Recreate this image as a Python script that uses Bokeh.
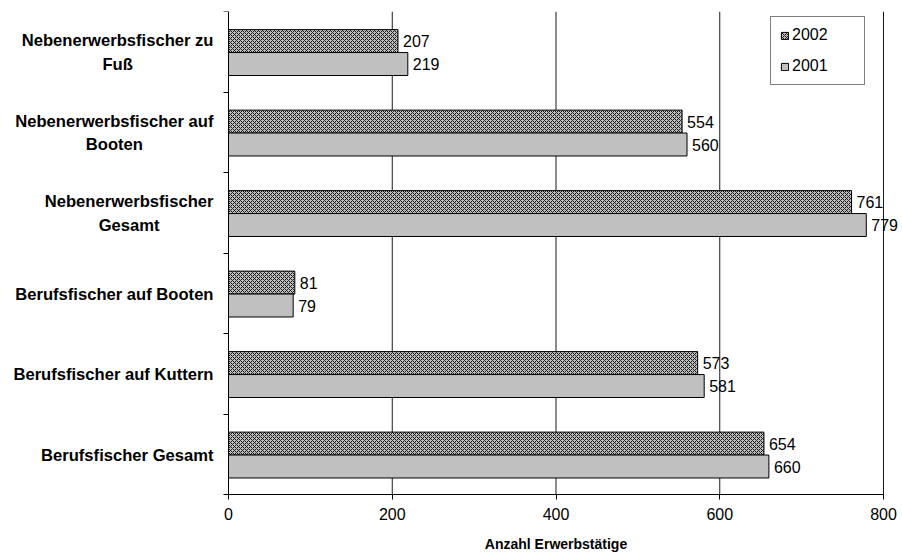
from bokeh.plotting import figure
from bokeh.models import Range1d, FixedTicker, ColumnDataSource, Legend, LegendItem
from bokeh.core.properties import value
from bokeh.embed import file_html
from bokeh.resources import INLINE

# --- data ---------------------------------------------------------------
categories = [
    "Nebenerwerbsfischer zu\nFuß",
    "Nebenerwerbsfischer auf\nBooten",
    "Nebenerwerbsfischer\nGesamt",
    "Berufsfischer auf Booten",
    "Berufsfischer auf Kuttern",
    "Berufsfischer Gesamt",
]
values_2002 = [207, 554, 761, 81, 573, 654]
values_2001 = [219, 560, 779, 79, 581, 660]
series_labels = ["2002", "2001"]
x_ticks = [0, 200, 400, 600, 800]
x_label = "Anzahl Erwerbstätige"

# --- layout constants (pixels) -------------------------------------------
W, H = 902, 553
TOP, BOTTOM = 11, 59          # space above the bars / below the value axis line
AXIS_PX = 228                 # canvas x of the value 0
PX_PER_UNIT = 655 / 800       # horizontal scale
TITLE_GAP = 49                # axis title centre below the value axis line
LEGEND_BOTTOM = 85            # canvas y of the legend's lower edge
FONT = value("Liberation Sans")

n = len(categories)
x0 = -AXIS_PX / PX_PER_UNIT
x1 = x0 + W / PX_PER_UNIT
band_px = (H - TOP - BOTTOM) / n

band_mid = [i + 0.51 for i in range(n)]
bar_h = 0.285
y_2002 = [m - bar_h / 2 for m in band_mid]
y_2001 = [m + bar_h / 2 for m in band_mid]

src_2002 = ColumnDataSource(dict(y=y_2002, v=values_2002, t=[str(v) for v in values_2002]))
src_2001 = ColumnDataSource(dict(y=y_2001, v=values_2001, t=[str(v) for v in values_2001]))
src_cat = ColumnDataSource(dict(y=band_mid, x=[0] * n, t=categories))

p = figure(
    width=W, height=H,
    x_range=Range1d(x0, x1), y_range=Range1d(n + BOTTOM / band_px, 0),
    min_border_left=0, min_border_right=0,
    min_border_top=TOP, min_border_bottom=0,
    output_backend="svg", toolbar_location=None,
    x_axis_location="below", y_axis_location="left",
)
p.outline_line_color = None
p.background_fill_color = "white"
p.border_fill_color = "white"
p.xgrid.visible = False
p.ygrid.visible = False

# vertical grid lines over the category bands
grid_x = [t for t in x_ticks if t > 0]
p.segment(x0=grid_x, y0=[0] * len(grid_x), x1=grid_x, y1=[n] * len(grid_x),
          line_color="#1a1a1a", line_width=1)

# bars
r2002 = p.hbar(y="y", left=0, right="v", height=bar_h, source=src_2002,
               fill_color="#bdbdbd", hatch_pattern="diagonal_cross",
               hatch_color="#1a1a1a", hatch_scale=4, hatch_weight=1,
               line_color="black", line_width=1)
r2001 = p.hbar(y="y", left=0, right="v", height=bar_h, source=src_2001,
               fill_color="#c0c0c0", line_color="black", line_width=1)

# value labels
for src in (src_2002, src_2001):
    p.text(x="v", y="y", text="t", source=src, x_offset=5,
           text_align="left", text_baseline="middle",
           text_font=FONT, text_font_size="16px", text_color="black")

# category labels, right aligned next to the axis, lines centred
p.text(x="x", y="y", text="t", source=src_cat, x_offset=-15,
       anchor="center_right", text_align="center", text_baseline="middle",
       text_font=FONT, text_font_style="bold", text_font_size="16.6px",
       text_line_height=1.22, text_color="black")

# axis title, centred under the value axis
p.text(x=[(x_ticks[0] + x_ticks[-1]) / 2], y=[n + TITLE_GAP / band_px],
       text=[x_label], text_align="center", text_baseline="middle",
       text_font=FONT, text_font_style="bold", text_font_size="14px",
       text_color="black")

# y axis at value 0, ticks between categories
ya = p.yaxis[0]
ya.fixed_location = 0
ya.bounds = (0, n)
ya.ticker = FixedTicker(ticks=list(range(n + 1)))
ya.major_label_overrides = {i: "" for i in range(n + 1)}
ya.major_label_text_font_size = "0px"
ya.major_tick_in = 0
ya.major_tick_out = 5
ya.minor_tick_line_color = None
ya.axis_line_color = "black"
ya.major_tick_line_color = "black"

# value axis along the bottom of the last category band
xa = p.xaxis[0]
xa.fixed_location = n
xa.bounds = (x_ticks[0], x_ticks[-1])
xa.ticker = FixedTicker(ticks=x_ticks)
xa.major_tick_in = 0
xa.major_tick_out = 5
xa.minor_tick_line_color = None
xa.major_label_standoff = 8
xa.major_label_text_font = "Liberation Sans"
xa.major_label_text_font_size = "16px"
xa.major_label_text_color = "black"
xa.axis_line_color = "black"
xa.major_tick_line_color = "black"

legend = Legend(
    items=[LegendItem(label=series_labels[0], renderers=[r2002]),
           LegendItem(label=series_labels[1], renderers=[r2001])],
    location=(770, H - LEGEND_BOTTOM),
    border_line_color="black", border_line_width=1,
    background_fill_color="white", background_fill_alpha=1,
    padding=9, spacing=13, margin=0,
    glyph_width=9, glyph_height=9, label_standoff=3,
    label_height=15, label_width=63,
    label_text_font="Liberation Sans", label_text_font_size="16px",
    label_text_color="black",
)
p.add_layout(legend)

open("out.html", "w").write(file_html(p, INLINE))
